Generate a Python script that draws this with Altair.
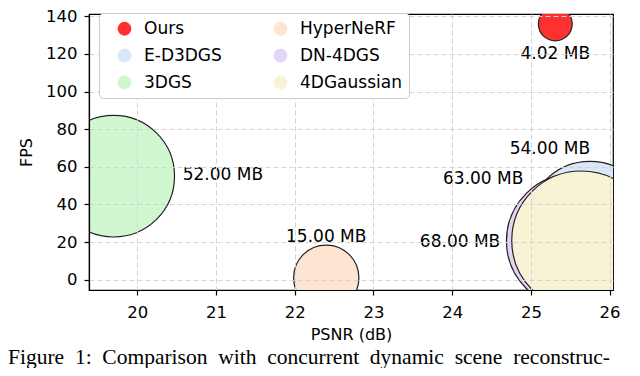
import altair as alt
import pandas as pd

# ---- data ----
methods = ["Ours", "E-D3DGS", "3DGS", "HyperNeRF", "DN-4DGS", "4DGaussian"]
psnr = [25.31, 25.75, 19.70, 22.40, 25.54, 25.64]
fps = [135.9, 29.9, 55.0, 1.0, 20.6, 20.8]
storage_mb = [4.02, 54.00, 52.00, 15.00, 63.00, 68.00]
x_ticks = [20, 21, 22, 23, 24, 25, 26]
y_ticks = [0, 20, 40, 60, 80, 100, 120, 140]
caption_words = ["Figure", "1:", "Comparison", "with", "concurrent", "dynamic", "scene", "reconstruc-"]
caption = "\u00a0 ".join(caption_words)

# ---- styling ----
fill_colors = {
    "Ours": "#ff3030",
    "E-D3DGS": "#d8e7fa",
    "3DGS": "#d0f7d0",
    "HyperNeRF": "#fde5d1",
    "DN-4DGS": "#e4d4f5",
    "4DGaussian": "#f8f3d5",
}
label_style = {  # dx, dy, align
    "Ours": (0, 30, "center"),
    "E-D3DGS": (-40, -74, "center"),
    "3DGS": (69, -1, "left"),
    "HyperNeRF": (0, -41, "center"),
    "DN-4DGS": (-50, -62, "right"),
    "4DGaussian": (-81, 1, "right"),
}

df = pd.DataFrame({
    "method": methods,
    "psnr": psnr,
    "fps": fps,
    "storage": storage_mb,
    "order": list(range(len(methods))),
})
df["label"] = [f"{s:.2f} MB" for s in df["storage"]]

W, H = 524, 276
xscale = alt.Scale(domain=[19.386, 26.043], nice=False, zero=False)
yscale = alt.Scale(domain=[-5.5, 141.2], nice=False, zero=False)
per_mb = 284.4
size_scale = alt.Scale(type="linear", domain=[0, 68], range=[0, per_mb * 68], zero=True)

x_enc = alt.X("psnr:Q", scale=xscale,
              axis=alt.Axis(values=x_ticks, title="PSNR (dB)", format="d", grid=True, zindex=1,
                            labelOverlap=False, labelPadding=9, titlePadding=6))
y_enc = alt.Y("fps:Q", scale=yscale,
              axis=alt.Axis(values=y_ticks, title="FPS", format="d", grid=True, zindex=1,
                            labelOverlap=False, labelPadding=7, titlePadding=11))

base = alt.Chart(df)

bubbles = base.mark_circle(clip=True, opacity=1, stroke="#222222", strokeWidth=1.2).encode(
    x=x_enc,
    y=y_enc,
    size=alt.Size("storage:Q", scale=size_scale, legend=None),
    color=alt.Color(
        "method:N",
        scale=alt.Scale(domain=methods, range=[fill_colors[m] for m in methods]),
        legend=alt.Legend(
            title=None, orient="none", legendX=10, legendY=-1, columns=2,
            symbolType="circle", symbolSize=190, symbolStrokeWidth=0, symbolOpacity=1,
            labelFontSize=17, labelFont="DejaVu Sans", labelColor="black",
            labelOffset=11, symbolOffset=10, columnPadding=40, rowPadding=9,
            padding=7, fillColor="white", strokeColor="#cccccc", cornerRadius=4,
            zindex=3,
        ),
    ),
    order=alt.Order("order:Q"),
)

layers = [bubbles]
for m in methods:
    dx, dy, al = label_style[m]
    layers.append(
        base.transform_filter(alt.datum.method == m).mark_text(
            dx=dx, dy=dy, align=al, baseline="middle", fontSize=17,
            font="DejaVu Sans", color="black",
        ).encode(x=x_enc, y=y_enc, text="label:N")
    )

cap = alt.Chart(pd.DataFrame({"t": [caption]})).mark_text(
    align="left", baseline="alphabetic", fontSize=21.5, font="Liberation Serif", color="black"
).encode(x=alt.value(-81), y=alt.value(349.5), text="t:N")
layers.append(cap)

chart = alt.layer(*layers).properties(
    width=W, height=H,
    autosize=alt.AutoSizeParams(type="none"),
    padding={"left": 81, "top": 6, "right": 19, "bottom": 78},
).configure(font="DejaVu Sans").configure_view(
    stroke="black", strokeWidth=1.2
).configure_axis(
    domainColor="black", domainWidth=1.2, tickColor="black", tickWidth=1.2, tickSize=5,
    labelColor="black", labelFontSize=16.5, labelFont="DejaVu Sans",
    titleColor="black", titleFontSize=16, titleFont="DejaVu Sans", titleFontWeight="normal",
    grid=True, gridColor="#d4d4d4", gridDash=[5, 3], gridWidth=1, zindex=1,
)

chart.save("out.html", embed_options={"renderer": "svg", "actions": False})
